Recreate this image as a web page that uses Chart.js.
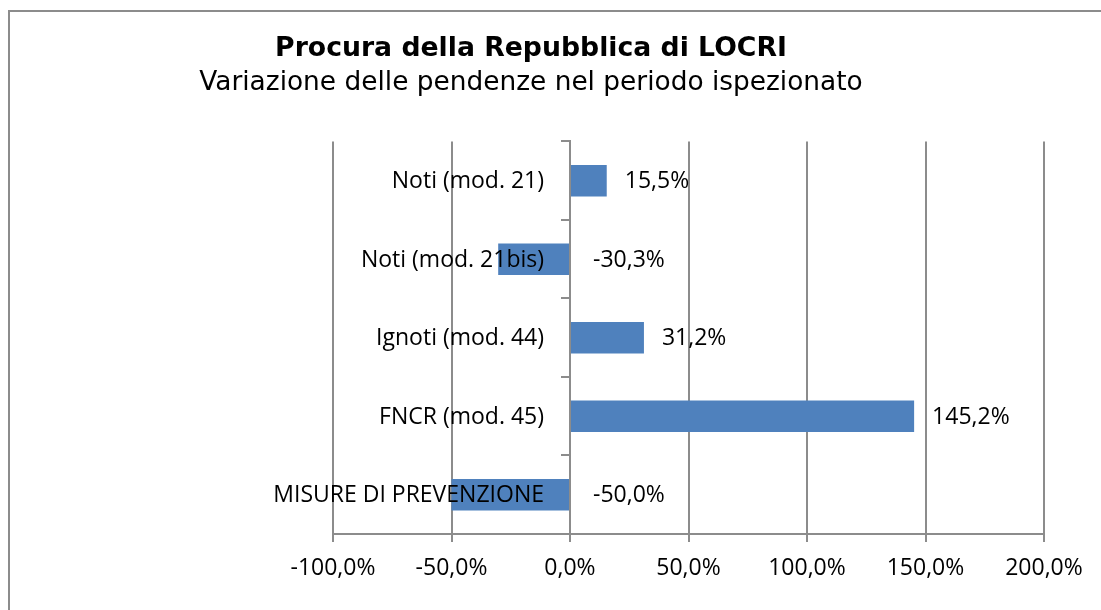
<!DOCTYPE html>
<html>
<head>
<meta charset="utf-8">
<script src="https://cdn.jsdelivr.net/npm/chart.js@4.4.0/dist/chart.umd.min.js"></script>
<style>
  html, body { margin: 0; padding: 0; background: #ffffff; overflow: hidden; width: 1101px; height: 610px; }
  #frame { position: absolute; left: 8px; top: 10px; width: 1300px; height: 900px; border-left: 2px solid #8c8c8c; border-top: 2px solid #8c8c8c; box-sizing: border-box; }
  #c { position: absolute; left: 0; top: 0; }
</style>
</head>
<body>
<div id="frame"></div>
<canvas id="c" width="1101" height="610"></canvas>
<script>
const titleText = 'Procura della Repubblica di LOCRI';
const subtitleText = 'Variazione delle pendenze nel periodo ispezionato';
const categories = ['Noti (mod. 21)', 'Noti (mod. 21bis)', 'Ignoti (mod. 44)', 'FNCR (mod. 45)', 'MISURE DI PREVENZIONE'];
const variations = [15.5, -30.3, 31.2, 145.2, -50.0];
const axisMin = -100;
const axisMax = 200;
const axisStep = 50;

const fmt = v => Number(v).toFixed(1).replace('.', ',') + '%';
const labelFont = '23px "Open Sans"';
const gridColor = '#8c8c8c';

const labelsPlugin = {
  id: 'labelsPlugin',
  afterDatasetsDraw(chart) {
    const ctx = chart.ctx;
    const xs = chart.scales.x;
    const ys = chart.scales.y;
    const zero = xs.getPixelForValue(0);
    ctx.save();
    ctx.font = labelFont;
    ctx.fillStyle = '#000000';
    ctx.textBaseline = 'middle';
    // category labels next to the zero axis
    ctx.textAlign = 'right';
    categories.forEach((c, i) => {
      ctx.fillText(c, zero - 26, ys.getPixelForTick(i) + 1);
    });
    // data labels
    ctx.textAlign = 'left';
    const meta = chart.getDatasetMeta(0);
    meta.data.forEach((bar, i) => {
      const v = variations[i];
      const x = Math.max(bar.x, bar.base) + (v >= 0 ? 18 : 24);
      ctx.fillText(fmt(v), x, bar.y + 1);
    });
    ctx.restore();
  }
};

new Chart(document.getElementById('c'), {
  type: 'bar',
  data: {
    labels: categories,
    datasets: [{
      data: variations,
      backgroundColor: '#4F81BD',
      borderWidth: 0,
      barPercentage: 0.4,
      categoryPercentage: 1.0
    }]
  },
  options: {
    indexAxis: 'y',
    responsive: false,
    animation: false,
    layout: { padding: { left: 18, right: 57, top: 0, bottom: 28 } },
    plugins: {
      legend: { display: false },
      tooltip: { enabled: false },
      title: {
        display: true,
        text: titleText,
        color: '#000000',
        font: { family: 'DejaVu Sans', size: 26.7, weight: 'bold', lineHeight: 1.2 },
        padding: { top: 33, bottom: 0 }
      },
      subtitle: {
        display: true,
        text: subtitleText,
        color: '#000000',
        font: { family: 'DejaVu Sans', size: 26.4, weight: 'normal', lineHeight: 1.2 },
        padding: { top: 2, bottom: 42.7 }
      }
    },
    scales: {
      x: {
        type: 'linear',
        min: axisMin,
        max: axisMax,
        afterFit: s => { s.height = 48; },
        ticks: {
          stepSize: axisStep,
          color: '#000000',
          font: { family: 'Open Sans', size: 23 },
          padding: 13,
          callback: v => fmt(v)
        },
        grid: { color: gridColor, lineWidth: 2, tickLength: 8, drawTicks: true },
        border: { color: gridColor, width: 2 }
      },
      y: {
        type: 'category',
        position: 'left',
        afterFit: s => { s.width = 315; },
        ticks: { display: false },
        grid: { display: false },
        border: { display: false }
      },
      y2: {
        type: 'category',
        axis: 'y',
        position: { x: 0 },
        offset: true,
        afterFit: s => { s.width = 0; },
        ticks: { display: false },
        grid: { offset: true, drawOnChartArea: false, drawTicks: true, tickLength: 8, color: gridColor, lineWidth: 2 },
        border: { color: gridColor, width: 2 }
      }
    }
  },
  plugins: [labelsPlugin]
});
</script>
</body>
</html>
